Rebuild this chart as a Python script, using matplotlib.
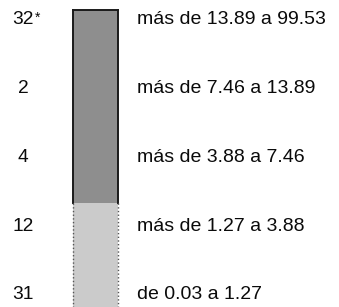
import matplotlib
matplotlib.use("Agg")
from matplotlib import pyplot as plt
import numpy as np

# class counts, class ranges and fill group (top three dark, bottom two light)
counts = ["32*", "2", "4", "12", "31"]
ranges = [
    "más de 13.89 a 99.53",
    "más de 7.46 a 13.89",
    "más de 3.88 a 7.46",
    "más de 1.27 a 3.88",
    "de 0.03 a 1.27",
]
shade = ["dark", "dark", "dark", "light", "light"]

colors = {"dark": "#8e8e8e", "light": "#cbcbcb"}
edges = {"dark": "#1a1a1a", "light": "#555555"}

plt.rcParams["font.family"] = ["Liberation Sans", "DejaVu Sans"]

fig = plt.figure(figsize=(3.39, 3.07), dpi=100)
ax = fig.add_axes([0, 0, 1, 1])

n = len(counts)
bar_x, bar_w = 95.5, 45
top, bottom = -0.15, 4.4
shift = 0.16  # segment boundaries sit a bit below the midpoints between rows

seg_top = [top] + [i - 0.5 + shift for i in range(1, n)]
seg_bot = seg_top[1:] + [bottom]

for i, (c, r, s) in enumerate(zip(counts, ranges, shade)):
    ax.bar(bar_x, seg_bot[i] - seg_top[i], bottom=seg_top[i], width=bar_w,
           color=colors[s], edgecolor="none")
    ax.text(23, i, c.rstrip("*"), ha="center", va="center",
            fontsize=13.8, color="#0a0a0a")
    if c.endswith("*"):
        ax.text(34.5, i - 0.03, "*", ha="left", va="center",
                fontsize=10, color="#0a0a0a")
    ax.text(137, i, r, ha="left", va="center", fontsize=14, color="#0a0a0a")

# borders: solid on dark group, dotted on light group
dark_end = seg_bot[max(i for i, s in enumerate(shade) if s == "dark")]
for xe in (bar_x - bar_w / 2, bar_x + bar_w / 2):
    ax.plot([xe, xe], [top, dark_end], color=edges["dark"], lw=1.4)
    ax.plot([xe, xe], [dark_end, bottom], color=edges["light"], lw=1, ls=":")
ax.plot([bar_x - bar_w / 2, bar_x + bar_w / 2], [top, top],
        color=edges["dark"], lw=1.4)

ax.set_xlim(0, 339)
ax.set_ylim(4.175, -0.29)
ax.axis("off")

fig.savefig("out.png", dpi=100, facecolor="white")
